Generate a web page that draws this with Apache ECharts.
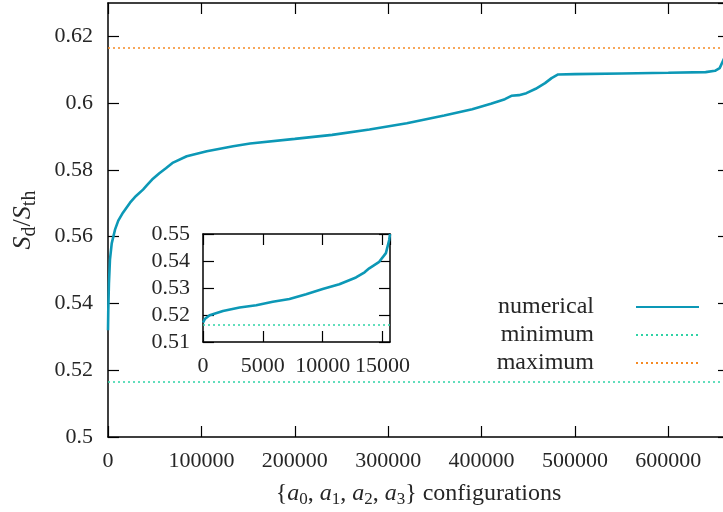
<!DOCTYPE html>
<html>
<head>
<meta charset="utf-8">
<script src="https://cdn.jsdelivr.net/npm/echarts@6/dist/echarts.min.js"></script>
<style>
  html, body { margin: 0; padding: 0; background: #fff; }
  #chart { width: 723px; height: 512px; }
</style>
</head>
<body>
<div id="chart"></div>
<script>
// main curve: configurations sorted by S_d/S_th
var mainX = [0, 300, 1000, 2100, 4000, 7500, 11000, 16000, 23600, 30000, 37500, 42000,
  47200, 55000, 62000, 69700, 84300, 105800, 134000, 152200, 200000, 240000, 280000,
  320000, 360000, 390000, 410000, 425000, 432000, 440000, 448000, 458000, 468000,
  475000, 482000, 500000, 550000, 600000, 640000, 650000, 655000, 660000, 665000]
var mainY = [0.5320, 0.5380, 0.5460, 0.5531, 0.5580, 0.5621, 0.5648, 0.5672, 0.5702,
  0.5722, 0.5741, 0.5755, 0.5771, 0.5790, 0.5805, 0.5822, 0.5841, 0.5856, 0.5871,
  0.5879, 0.5893, 0.5905, 0.5921, 0.5940, 0.5963, 0.5982, 0.5998, 0.6012, 0.6022,
  0.6024, 0.6030, 0.6043, 0.6060, 0.6075, 0.6086, 0.6087, 0.6089, 0.6091, 0.6093,
  0.6097, 0.6105, 0.6135, 0.6160]

// inset curve
var insetX = [0, 150, 558, 1667, 3058, 4450, 5833, 7225, 8617, 10000, 11392, 12783,
  13500, 13892, 14725, 15283, 15558, 15625]
var insetY = [0.5172, 0.5185, 0.5199, 0.5215, 0.5228, 0.5236, 0.5249, 0.5259, 0.5277,
  0.5296, 0.5314, 0.5339, 0.5358, 0.5373, 0.5397, 0.5429, 0.5478, 0.5500]

var minimumValue = 0.5165
var maximumValue = 0.6165
var insetMinimumValue = 0.5163

var mainXRange = [0, 665000]
var mainYRange = [0.5, 0.63]
var insetXRange = [0, 15625]
var insetYRange = [0.51, 0.55]

var legendNames = ['numerical', 'minimum', 'maximum']

var FONT = 'Liberation Serif'
var TEXT = '#262626'
var BLUE = '#0c98b6'
var GREEN = '#2fd3a6'
var ORANGE = '#f58a24'

function pairs (xs, ys) {
  return xs.map(function (x, i) { return [x, ys[i]] })
}
function flat (range, v) {
  return [[range[0], v], [range[1], v]]
}
function plain (v) {
  return String(+v.toFixed(6))
}

// rich text styles for the math in the axis titles
function mathStyles (size, subSize) {
  return {
    i: { fontFamily: FONT, fontStyle: 'italic', fontSize: size, color: TEXT },
    s: { fontFamily: FONT, fontSize: subSize, color: TEXT, padding: [Math.round(size * 0.5), 0, 0, 0] },
    r: { fontFamily: FONT, fontSize: size, color: TEXT }
  }
}

function valueAxis (gridIndex, range, interval, position, withLabels, extra) {
  var ax = {
    type: 'value',
    gridIndex: gridIndex,
    position: position,
    min: range[0],
    max: range[1],
    interval: interval,
    splitLine: { show: false },
    axisLine: { show: true, onZero: false, lineStyle: { color: '#000', width: 1.5 } },
    axisTick: { show: true, inside: true, length: 11, lineStyle: { color: '#000', width: 1.2 } },
    axisLabel: {
      show: withLabels,
      fontFamily: FONT,
      fontSize: 22,
      color: TEXT,
      margin: 13,
      showMaxLabel: false,
      formatter: plain
    }
  }
  if (extra) {
    for (var k in extra) ax[k] = extra[k]
  }
  return ax
}

var chart = echarts.init(document.getElementById('chart'))

var mainXAxis = valueAxis(0, mainXRange, 100000, 'bottom', true, {
  name: '{{i|a}{s|0}{r|, }{i|a}{s|1}{r|, }{i|a}{s|2}{r|, }{i|a}{s|3}} configurations',
  nameLocation: 'middle',
  nameGap: 42,
  nameTextStyle: { fontFamily: FONT, fontSize: 24, color: TEXT, rich: mathStyles(24, 17) }
})
var mainYAxis = valueAxis(0, mainYRange, 0.02, 'left', true, {
  name: '{i|S}{s|d}{r|/}{i|S}{s|th}',
  nameLocation: 'middle',
  nameRotate: 90,
  nameGap: 68,
  nameTextStyle: { fontFamily: FONT, fontSize: 26, color: TEXT, rich: mathStyles(26, 20) }
})
mainYAxis.axisLabel.margin = 15

var insetXAxis = valueAxis(1, insetXRange, 5000, 'bottom', true)
var insetYAxis = valueAxis(1, insetYRange, 0.01, 'left', true)
insetYAxis.axisLabel.showMaxLabel = true

var option = {
  animation: false,
  backgroundColor: '#fff',
  grid: [
    { left: 108, top: 3, width: 621, height: 434, outerBoundsMode: 'none', containLabel: false },
    { left: 203, top: 234, width: 187, height: 108, outerBoundsMode: 'none', containLabel: false }
  ],
  xAxis: [
    mainXAxis,
    insetXAxis,
    valueAxis(0, mainXRange, 100000, 'top', false),
    valueAxis(1, insetXRange, 5000, 'top', false)
  ],
  yAxis: [
    mainYAxis,
    insetYAxis,
    valueAxis(0, mainYRange, 0.02, 'right', false),
    valueAxis(1, insetYRange, 0.01, 'right', false)
  ],
  legend: {
    data: legendNames,
    orient: 'vertical',
    align: 'right',
    right: 23,
    top: 295,
    padding: 0,
    itemWidth: 63,
    itemHeight: 14,
    itemGap: 4,
    selectedMode: false,
    itemStyle: { opacity: 0 },
    textStyle: { fontFamily: FONT, fontSize: 24, color: TEXT, lineHeight: 24, padding: [0, 37, 0, 0] }
  },
  series: [
    {
      name: 'numerical', type: 'line', xAxisIndex: 0, yAxisIndex: 0,
      data: pairs(mainX, mainY), symbol: 'none', z: 5,
      lineStyle: { color: BLUE, width: 2.6 }, itemStyle: { color: BLUE }
    },
    {
      name: 'minimum', type: 'line', xAxisIndex: 0, yAxisIndex: 0,
      data: flat(mainXRange, minimumValue), symbol: 'none',
      lineStyle: { color: GREEN, width: 1.5, type: [2, 3] }, itemStyle: { color: GREEN }
    },
    {
      name: 'maximum', type: 'line', xAxisIndex: 0, yAxisIndex: 0,
      data: flat(mainXRange, maximumValue), symbol: 'none',
      lineStyle: { color: ORANGE, width: 1.5, type: [2, 3] }, itemStyle: { color: ORANGE }
    },
    {
      name: 'inset numerical', type: 'line', xAxisIndex: 1, yAxisIndex: 1,
      data: pairs(insetX, insetY), symbol: 'none', z: 5,
      lineStyle: { color: BLUE, width: 2.6 }
    },
    {
      name: 'inset minimum', type: 'line', xAxisIndex: 1, yAxisIndex: 1,
      data: flat(insetXRange, insetMinimumValue), symbol: 'none',
      lineStyle: { color: GREEN, width: 1.5, type: [2, 3] }
    }
  ]
}

chart.setOption(option)
</script>
</body>
</html>
